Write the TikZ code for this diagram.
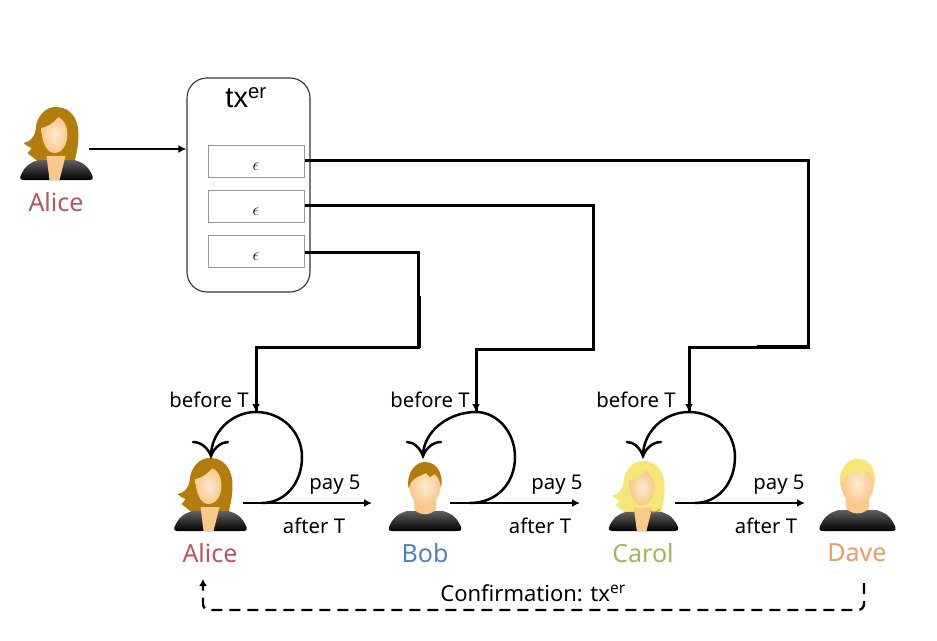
\documentclass[tikz,border=0pt]{standalone}
\usepackage{fontspec}
\setmainfont{Noto Sans}
\newfontfamily\arialfont{Liberation Sans}
\usetikzlibrary{arrows.meta}
\definecolor{hairbrown}{HTML}{B27D0A}
\definecolor{hairblond}{HTML}{F5E676}
\definecolor{skinin}{HTML}{FDEBD0}
\definecolor{skinout}{HTML}{F8C88C}
\definecolor{cAlice}{HTML}{B8555F}
\definecolor{cBob}{HTML}{4F81BD}
\definecolor{cCarol}{HTML}{9BBB59}
\definecolor{cDave}{HTML}{EE9A5E}
\tikzset{
  wire/.style={line width=3pt},
  arrowline/.style={line width=2.3pt,-{Latex[length=8pt,width=8pt]}},
  loopline/.style={line width=2.5pt},
  barb/.style={line width=2.5pt,line cap=round},
  txbox/.style={draw=black!80,line width=1.1pt,rounded corners=20pt,minimum width=123pt,minimum height=214pt,inner sep=0pt},
  epsbox/.style={draw=black!40,line width=1pt,minimum width=96pt,minimum height=32pt,inner sep=0pt,font=\fontsize{17}{18}\selectfont},
  txt/.style={font=\fontsize{20.3}{22}\selectfont,inner sep=0pt,text=black},
  who/.style={font=\fontsize{25}{27}\selectfont,inner sep=0pt},
  bodyshade/.style={top color=black!62,bottom color=black},
}
\newcommand{\drawbody}{%
  \shade[bodyshade] (-33,0) .. controls (-36,0) and (-37.5,-2) .. (-36,-4)
    .. controls (-32,-13) and (-28,-17) .. (-18,-20) -- (18,-20)
    .. controls (28,-17) and (32,-13) .. (36,-4)
    .. controls (37.5,-2) and (36,0) .. (33,0) -- cycle;}
\newcommand{\drawwoman}[4]{% x, bottom y, hair, scale
  \begin{scope}[shift={(#1,#2)},scale=#4]
    \fill[#3] (-18,-18) .. controls (-22,-22) and (-26,-24) .. (-29,-27)
      .. controls (-27,-29) and (-26,-30) .. (-25,-32)
      .. controls (-28,-33) and (-31,-35) .. (-33,-37)
      .. controls (-27,-38) and (-22,-42) .. (-21,-50)
      .. controls (-20,-65) and (-10,-73) .. (-1,-73)
      .. controls (14,-73) and (22,-62) .. (22,-45)
      .. controls (22,-35) and (20,-27) .. (18,-18) -- cycle;
    \drawbody
    \fill[skinout] (-10,-24) -- (9,-24) -- (3,0) -- (-7,0) -- cycle;
    \shade[inner color=skinin,outer color=skinout]
      (-15,-52) .. controls (-9,-53) and (-3,-57) .. (2,-63)
      .. controls (8,-60) and (11,-53) .. (11,-46)
      .. controls (11,-36) and (6,-27) .. (-2,-27)
      .. controls (-10,-27) and (-15,-38) .. (-15,-52) -- cycle;
  \end{scope}}
\newcommand{\drawman}[4]{% x, bottom y, hair, scale
  \begin{scope}[shift={(#1,#2)},scale=#4]
    \drawbody
    \fill[skinout] (-11,-34) -- (11,-34) -- (11,-22) .. controls (6,-15) and (-6,-15) .. (-11,-22) -- cycle;
    \shade[inner color=skinin,outer color=skinout] (0,-45) ellipse [x radius=15.5,y radius=20];
    \fill[#3] (-16.5,-43) .. controls (-19,-60) and (-8,-69) .. (0,-69)
      .. controls (10,-69) and (19,-60) .. (16,-43)
      .. controls (15,-50) and (13,-54) .. (10,-57)
      -- (5,-54) -- (1,-58) .. controls (-5,-54) and (-12,-56) .. (-16.5,-43) -- cycle;
  \end{scope}}
\begin{document}
\begin{tikzpicture}[x=1pt,y=-1pt]
\useasboundingbox[fill=white] (0,0) rectangle (937,640);

% people
\drawwoman{56.5}{180}{hairbrown}{1}
\drawwoman{210.5}{531}{hairbrown}{1}
\drawman{425}{531}{hairbrown}{1}
\drawwoman{643.5}{531}{hairblond}{0.96}
\draw[line width=1pt,orange!70!brown] (650,511) .. controls (654,513) and (658,512) .. (660,509);
\drawman{857.5}{531}{hairblond}{1.05}

\node[who,text=cAlice] (lAliceTop) at (56,202) {Alice};
\node[who,text=cAlice] (lAlice) at (210,553) {Alice};
\node[who,text=cBob] (lBob) at (425,553) {Bob};
\node[who,text=cCarol] (lCarol) at (643,553) {Carol};
\node[who,text=cDave] (lDave) at (857,553) {Dave};

% transaction box
\node[txbox] (tx) at (248.5,185) {};
\node[inner sep=0pt,text=black] (txlabel) at (246,98) {\arialfont\fontsize{29}{31}\selectfont tx\textsuperscript{er}};
\node[epsbox] (e1) at (256,161) {\smash{\raisebox{-9pt}{$\epsilon$}}};
\node[epsbox] (e2) at (256,206) {\smash{\raisebox{-9pt}{$\epsilon$}}};
\node[epsbox] (e3) at (256,251) {\smash{\raisebox{-9pt}{$\epsilon$}}};

% anchor points
\coordinate (aliceOut) at (89,149);
\coordinate (txIn) at (tx.west |- aliceOut);
\coordinate (aTop) at (256,412);
\coordinate (bTop) at (476,412);
\coordinate (cTop) at (689,412);
\coordinate (aStart) at (243,503);
\coordinate (aEnd) at (372,503);
\coordinate (bStart) at (450,503);
\coordinate (bEnd) at (580,503);
\coordinate (cStart) at (675,503);
\coordinate (cEnd) at (805,503);
\coordinate (aBar) at (211,456);
\coordinate (bBar) at (423,456);
\coordinate (cBar) at (643,456);
\coordinate (d1) at (864,583);
\coordinate (d2) at (203,579);

\draw[arrowline] (aliceOut) -- (txIn);

% wires
\draw[wire] (e1.east |- 0,160) -| (808,347) -| (cTop);
\draw[wire] (e2.east |- 0,205) -| (593,349) -| (bTop);
\draw[wire] (e3.east |- 0,252) -| (418,347) -| (aTop);
\draw[-{Latex[length=8pt,width=8pt]},line width=2.3pt] (256,400) -- (aTop);
\draw[-{Latex[length=8pt,width=8pt]},line width=2.3pt] (476,400) -- (bTop);
\draw[-{Latex[length=8pt,width=8pt]},line width=2.3pt] (689,400) -- (cTop);
\draw[line width=4pt] (418.5,296) -- (418.5,348);
\draw[line width=4pt] (757,347) -- (808,347);

% loops
\draw[loopline] (262,503) .. controls (285,503) and (302,483) .. (302,457)
  .. controls (302,432) and (282,412) .. (aTop) .. controls (232,412) and (211,432) .. (aBar);
\draw[barb] (193,442) .. controls (201,442) and (208,448) .. (aBar) .. controls (214,448) and (221,442) .. (228,442);
\draw[arrowline] (aStart) -- (aEnd);

\draw[loopline] (470,503) .. controls (497,503) and (515,483) .. (515,457)
  .. controls (515,432) and (497,412) .. (bTop) .. controls (448,412) and (423,432) .. (bBar);
\draw[barb] (407,442) .. controls (414,442) and (420,448) .. (bBar) .. controls (426,448) and (433,442) .. (441,442);
\draw[arrowline] (bStart) -- (bEnd);

\draw[loopline] (695,503) .. controls (718,503) and (735,483) .. (735,457)
  .. controls (735,432) and (715,412) .. (cTop) .. controls (664,412) and (643,432) .. (cBar);
\draw[barb] (627,442) .. controls (634,442) and (640,448) .. (cBar) .. controls (646,448) and (653,442) .. (661,442);
\draw[arrowline] (cStart) -- (cEnd);

% labels
\node[txt] (b1) at (209,400) {before T};
\node[txt] (b2) at (430,400) {before T};
\node[txt] (b3) at (636,400) {before T};
\node[txt] (p1) at (335,485) {pay 5};
\node[txt] (p2) at (557,485) {pay 5};
\node[txt] (p3) at (779,485) {pay 5};
\node[txt] (a1) at (314,526) {after T};
\node[txt] (a2) at (540,526) {after T};
\node[txt] (a3) at (766,526) {after T};
\node[txt,font=\fontsize{22}{24}\selectfont] (conf) at (533,593) {Confirmation: tx\textsuperscript{er}};

% confirmation
\draw[line width=2.3pt,dash pattern=on 11pt off 7pt,-{Latex[length=7pt,width=8pt]},rounded corners=6pt]
  (d1) |- (203,610) -- (d2);
\end{tikzpicture}
\end{document}
